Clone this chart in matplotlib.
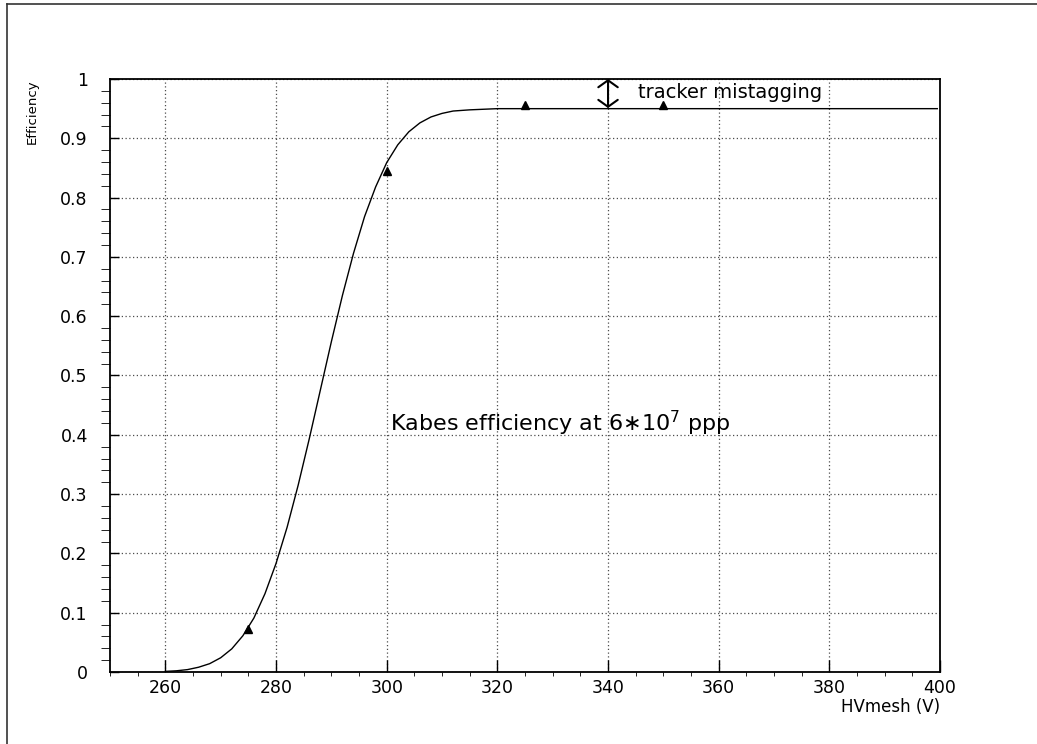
import matplotlib
matplotlib.use("Agg")
import matplotlib.pyplot as plt
from matplotlib.lines import Line2D

# measured points (triangles)
hv_points = [275, 300, 325, 350]
eff_points = [0.073, 0.845, 0.957, 0.957]

# fit curve
hv_curve = [260, 262, 264, 266, 268, 270, 272, 274, 276, 278, 280,
            282, 284, 286, 288, 290, 292, 294, 296, 298, 300,
            302, 304, 306, 308, 310, 312, 315, 320, 399.5]
eff_curve = [0.001, 0.002, 0.004, 0.008, 0.014, 0.024, 0.039, 0.061, 0.091, 0.132, 0.183,
             0.244, 0.315, 0.393, 0.475, 0.557, 0.635, 0.706, 0.768, 0.818, 0.859,
             0.889, 0.911, 0.926, 0.936, 0.942, 0.946, 0.948, 0.95, 0.95]

x_ticks = [260, 280, 300, 320, 340, 360, 380, 400]
y_ticks = [0, 0.1, 0.2, 0.3, 0.4, 0.5, 0.6, 0.7, 0.8, 0.9, 1.0]
y_tick_labels = ["0", "0.1", "0.2", "0.3", "0.4", "0.5", "0.6", "0.7", "0.8", "0.9", "1"]


def main():
    plt.rcParams['font.family'] = ['DejaVu Sans']
    fig = plt.figure(figsize=(10.37, 7.44), dpi=100)
    ax = fig.add_axes([0.1061, 0.0968, 0.8004, 0.797])

    ax.plot(hv_curve, eff_curve, color='black', lw=1.0)
    ax.plot(hv_points, eff_points, linestyle='none', marker='^',
            color='black', markersize=6)

    ax.set_xlim(250, 400)
    ax.set_ylim(0, 1)
    ax.set_xticks(x_ticks)
    ax.set_xticks(range(250, 401, 5), minor=True)
    ax.set_yticks(y_ticks)
    ax.set_yticklabels(y_tick_labels)
    ax.set_yticks([i * 0.02 for i in range(51)], minor=True)

    ax.tick_params(axis='both', direction='in', labelsize=12.5, width=1.0)
    ax.tick_params(axis='x', which='major', length=8.4, pad=5)
    ax.tick_params(axis='x', which='minor', length=3.2)
    ax.tick_params(axis='y', which='major', length=6.8, pad=16)
    ax.tick_params(axis='y', which='minor', length=6.8)
    for side in ax.spines.values():
        side.set_linewidth(1.3)

    # dotted grid on major ticks
    ax.grid(True, which='major', color='0.3', linestyle=(0, (1, 2)), lw=0.9)
    ax.set_axisbelow(True)

    # double arrow for the mistagging gap
    ax.annotate('', xy=(340, 0.951), xytext=(340, 1.0),
                arrowprops=dict(arrowstyle='<->, head_length=0.25, head_width=0.35',
                                lw=1.5, color='black', shrinkA=0, shrinkB=0,
                                mutation_scale=20))
    ax.text(345.4, 0.977, 'tracker mistagging', fontsize=14, va='center', ha='left')
    ax.text(300.6, 0.419, r'Kabes efficiency at 6$\ast$10$^{7}$ ppp',
            fontsize=16, va='center', ha='left')

    # axis titles PAW style
    fig.text(0.031, 0.8938, 'Efficiency', rotation=90, ha='center', va='top', fontsize=9.5)
    fig.text(0.9065, 0.0497, 'HVmesh (V)', ha='right', va='center', fontsize=12)

    # frame lines on left and top of the page
    fig.add_artist(Line2D([0.0063, 0.0063], [0.0, 0.9946], transform=fig.transFigure,
                          color='0.2', lw=1.2))
    fig.add_artist(Line2D([0.0063, 1.0], [0.9946, 0.9946], transform=fig.transFigure,
                          color='0.2', lw=1.2))

    fig.savefig('out.png', dpi=100)


if __name__ == "__main__":
    main()
